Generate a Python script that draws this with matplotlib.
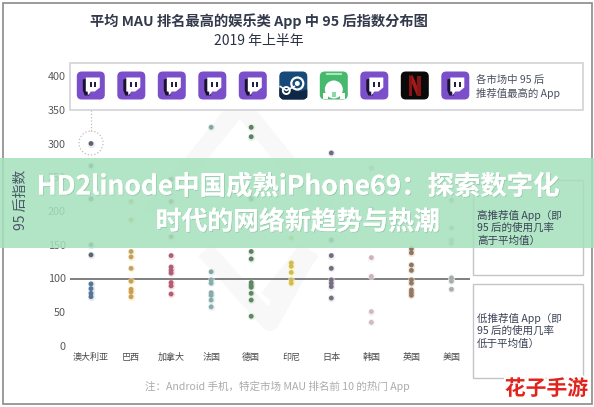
# chart of the 95-index per market, with app icons on top and the green banner over it

import matplotlib
matplotlib.use("Agg")
import matplotlib.pyplot as plt
import matplotlib.patheffects as pe
from matplotlib.patches import Circle, FancyBboxPatch, Polygon, Rectangle

plt.rcParams['font.family'] = ['Noto Sans CJK SC', 'DejaVu Sans']

# data
markets = ["澳大利亚", "巴西", "加拿大", "法国", "德国", "印尼", "日本", "韩国", "英国", "美国"]
y_ticks = [0, 50, 100, 150, 200, 250, 300, 350, 400]
australia = [300, 267, 218, 150, 135, 92, 85, 78, 73]
brazil = [214, 187, 140, 132, 115, 96, 84, 80, 73]
canada = [247, 214, 162, 134, 117, 112, 108, 94, 89, 77]
france = [324, 110, 98, 93, 79, 75, 68, 58]
germany = [324, 310, 218, 140, 129, 94, 90, 87, 78, 68, 44]
indonesia = [160, 123, 118, 109, 98, 93]
japan = [286, 157, 134, 115, 98, 93, 88, 71]
korea = [264, 203, 131, 103, 51, 35]
uk = [144, 138, 120, 112, 98, 93, 83, 79, 75]
usa = [216, 175, 157, 152, 101, 96, 84]
all_points = [australia, brazil, canada, france, germany, indonesia, japan, korea, uk, usa]
top_apps = ["twitch", "twitch", "twitch", "twitch", "twitch", "steam", "green", "twitch", "netflix", "twitch"]

# colours of the dots above and below the 100 line, and the glow behind them
high_colors = ["#5c646e", "#bda263", "#ac6078", "#86a5a5", "#5f7f64", "#cdbd58", "#736b7e", "#cdb2bc", "#8b7767", "#a6abab"]
low_colors = ["#587596", "#c8a055", "#b45c72", "#88abab", "#5f8763", "#cdbd58", "#776f80", "#cebbc2", "#927a6b", "#a8adad"]
glow_colors = ["#d5deec", "#ffe9b9", "#f6d3da", "#dfecea", "#d7e9d7", "#fff3b5", "#e4e1e8", "#f6ebef", "#f1dcc6", "#ecedee"]

W, H = 594, 407
fig = plt.figure(figsize=(W / 100, H / 100), dpi=100, facecolor="white")

# pixel layer under the chart
back = fig.add_axes([0, 0, 1, 1], zorder=0)
back.set_xlim(0, W)
back.set_ylim(H, 0)
back.axis("off")
back.add_patch(Rectangle((2.5, 2.5), 589, 401.5, fill=False, ec="#8a8a8a", lw=1.2))
# faint watermark shapes
back.plot([150, 240, 330], [215, 105, 215], color="#f8f8f8", lw=13, solid_capstyle="butt")
back.plot([205, 270, 310], [250, 322, 250], color="#f8f8f8", lw=13, solid_capstyle="butt")
back.plot([270, 310], [300, 250], color="#f8f8f8", lw=16, solid_capstyle="butt")
back.plot([91, 91], [110, 131], color="#bdbdbd", lw=0.9, ls=":")
back.add_patch(Circle((91, 143), 12, fill=False, ec="#bdbdbd", lw=0.9, ls=":"))

# main axes, one market is 40 px wide, 100 units are 67.5 px
x_left, x_right = 70, 470
y_top, y_zero = 60, 346
step, scale = 40.05, 0.675
ax = fig.add_axes([x_left / W, 1 - y_zero / H, (x_right - x_left) / W, (y_zero - y_top) / H], zorder=1)
ax.patch.set_alpha(0)
ax.set_xlim((x_left - 91) / step, (x_right - 91) / step)
ax.set_ylim(0, (y_zero - y_top) / scale)
for s in ax.spines.values():
    s.set_visible(False)
ax.set_xticks(range(len(markets)))
ax.set_xticklabels(markets, fontsize=6.5, color="#4a4a4a")
ax.set_yticks(y_ticks)
ax.set_yticklabels(y_ticks, fontsize=7.8, color="#5a5a5a")
ax.tick_params(axis="both", length=0)
ax.tick_params(axis="x", pad=5)
ax.tick_params(axis="y", pad=3)
ax.axhline(100, color="#6a6a6a", lw=1.2, zorder=2)

for i, values in enumerate(all_points):
    colors = [high_colors[i] if v > 100 else low_colors[i] for v in values]
    ax.scatter([i] * len(values), values, s=28, color=glow_colors[i], alpha=0.6, lw=0, zorder=3)
    ax.scatter([i] * len(values), values, s=12, color=colors, lw=0, zorder=4)

# pixel layer over the chart
top = fig.add_axes([0, 0, 1, 1], zorder=2)
top.patch.set_alpha(0)
top.set_xlim(0, W)
top.set_ylim(H, 0)
top.axis("off")


def rounded(cx, cy, size, color):
    top.add_patch(FancyBboxPatch((cx - size / 2 + 4, cy - size / 2 + 4), size - 8, size - 8,
                                 boxstyle="round,pad=4,rounding_size=5", fc=color, ec="none"))


def draw_icon(name, cx, cy):
    if name == "twitch":
        rounded(cx, cy, 28, "#7b4fc9")
        top.add_patch(Polygon([(cx - 8, cy - 6), (cx - 4, cy - 7), (cx - 4, cy + 6), (cx - 1, cy + 10),
                               (cx - 6, cy + 10), (cx - 8, cy + 5)], fc="#1b1230", ec="none"))
        top.add_patch(Polygon([(cx - 5, cy - 8), (cx + 9, cy - 8), (cx + 9, cy + 2), (cx + 4, cy + 6),
                               (cx, cy + 6), (cx - 3, cy + 10), (cx - 3, cy + 6), (cx - 5, cy + 6)], fc="white", ec="none"))
        top.add_patch(Rectangle((cx - 1, cy - 4), 1.8, 5, fc="#2a1c48", ec="none"))
        top.add_patch(Rectangle((cx + 3.5, cy - 4), 1.8, 5, fc="#2a1c48", ec="none"))
    elif name == "steam":
        rounded(cx, cy, 28, "#174a78")
        top.add_patch(Polygon([(cx - 14, cy + 3), (cx - 5, cy + 2), (cx + 5, cy + 6), (cx + 14, cy + 4),
                               (cx + 14, cy + 12), (cx + 11, cy + 14), (cx - 11, cy + 14), (cx - 14, cy + 11)],
                              fc="#0f2744", ec="none"))
        top.add_patch(Circle((cx + 4, cy - 2), 6, fc="none", ec="white", lw=1.6))
        top.add_patch(Circle((cx + 4, cy - 2), 2.5, fc="white", ec="none"))
        top.add_patch(Circle((cx - 7, cy + 5), 3.5, fc="none", ec="white", lw=1.4))
        top.plot([cx - 13, cx - 7, cx + 1], [cy + 1, cy + 5, cy + 1], color="white", lw=1.2)
    elif name == "green":
        rounded(cx, cy, 28, "#46b96d")
        top.add_patch(Circle((cx, cy + 4), 9, fc="white", ec="none"))
        top.add_patch(Rectangle((cx - 11, cy + 7), 5, 6, fc="white", ec="none"))
        top.add_patch(Rectangle((cx + 6, cy + 7), 5, 6, fc="white", ec="none"))
        top.add_patch(Rectangle((cx - 2, cy + 6), 4, 5, fc="#8fd6a8", ec="none"))
        top.plot([cx - 7, cx + 7], [cy - 12, cy - 12], color="#a8e6bd", lw=1.5)
    else:
        rounded(cx, cy, 28, "#0a0a0a")
        top.add_patch(Polygon([(cx - 6, cy - 10), (cx - 2, cy - 10), (cx + 6, cy + 10), (cx + 2, cy + 10)], fc="#a51a1a", ec="none"))
        top.add_patch(Rectangle((cx - 6, cy - 10), 3.5, 20, fc="#8a1414", ec="none"))
        top.add_patch(Rectangle((cx + 2.5, cy - 10), 3.5, 20, fc="#8a1414", ec="none"))


# card with the icons
top.add_patch(Rectangle((70, 62.5), 513, 47.5, fc="white", ec="#cfcfd4", lw=1.1))
for i, app in enumerate(top_apps):
    draw_icon(app, 90.8 + 40.5 * i, 85.5)
top.text(476, 80, "各市场中 95 后", fontsize=7.5, color="#4a5060", va="center")
top.text(476, 93, "推荐值最高的 App", fontsize=7.5, color="#4a5060", va="center")

# title
top.text(258.5, 21, "平均 MAU 排名最高的娱乐类 App 中 95 后指数分布图", fontsize=10.3, fontweight="bold",
         color="#333a4c", ha="center", va="center")
top.text(259, 41, "2019 年上半年", fontsize=10, color="#2b3245", ha="center", va="center")

# y label and footnote
top.text(21, 200, "95 后指数", fontsize=10, color="#4a5566", rotation=90, ha="center", va="center")
top.text(277, 386, "注：Android 手机，特定市场 MAU 排名前 10 的热门 App", fontsize=7.6, color="#ababab", ha="center", va="center")

# boxes on the right
top.add_patch(Rectangle((473, 180), 110, 95, fc="white", ec="#c4c4c8", lw=1))
top.add_patch(Rectangle((473, 284), 110, 94, fc="white", ec="#c4c4c8", lw=1))
for y, line in zip([215, 228, 241], ["高推荐值 App（即", "95 后的使用几率", "高于平均值）"]):
    top.text(477, y, line, fontsize=7.6, color="#3a4356", va="center")
for y, line in zip([318, 331, 344], ["低推荐值 App（即", "95 后的使用几率", "低于平均值）"]):
    top.text(477, y, line, fontsize=7.6, color="#3a4356", va="center")

# green banner and its text
top.add_patch(Rectangle((0, 158), W, 90, fc="#a6e0bd", ec="none", alpha=0.86))
shadow = [pe.withSimplePatchShadow(offset=(0.6, -0.6), shadow_rgbFace="#7fb89a", alpha=0.6), pe.Normal()]
top.text(298, 187, "HD2linode中国成熟iPhone69：探索数字化", fontsize=19, fontweight="bold", color="white",
         ha="center", va="center", path_effects=shadow)
top.text(298, 222, "时代的网络新趋势与热潮", fontsize=18.6, fontweight="bold", color="white",
         ha="center", va="center", path_effects=shadow)

# site mark bottom right
top.text(546.5, 388.5, "花子手游", fontsize=15, fontweight="bold", color="#e0231c", ha="center", va="center",
         path_effects=[pe.withStroke(linewidth=3, foreground="white")])

fig.savefig("out.png", dpi=100)
